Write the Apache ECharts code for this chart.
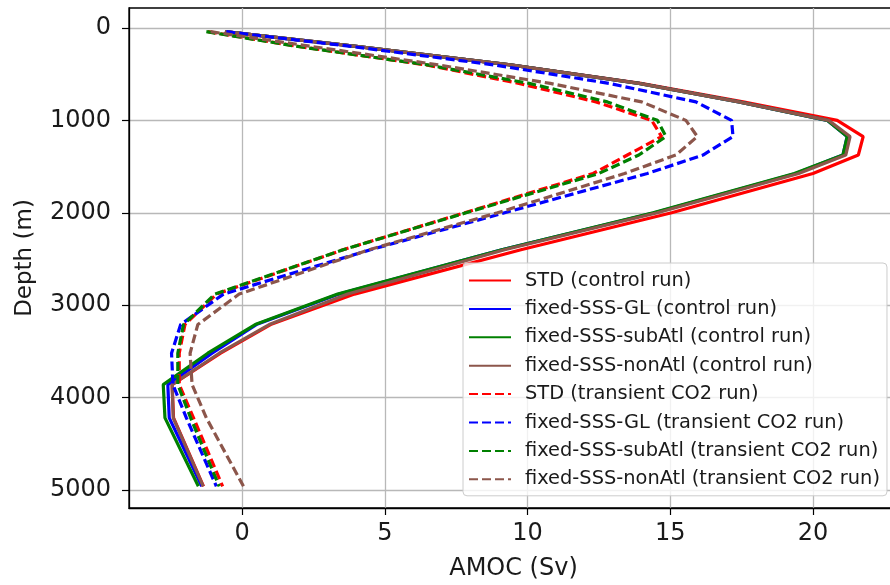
<!DOCTYPE html>
<html>
<head>
<meta charset="utf-8">
<script src="https://cdn.jsdelivr.net/npm/echarts@6/dist/echarts.min.js"></script>
<style>
html,body{margin:0;padding:0;background:#fff;}
#chart{width:890px;height:585px;}
</style>
</head>
<body>
<div id="chart"></div>
<script>
// Depth levels (m)
const depths = [40, 200, 400, 600, 800, 1000, 1175, 1375, 1575, 2000, 2400, 2880, 3210, 3520, 3860, 4220, 4960];

// AMOC (Sv) control runs
const stdCtrl     = [-0.6, 4.0, 9.4, 13.97, 17.55, 20.85, 21.76, 21.59, 20.0, 15.05, 9.77, 3.94, 1.0, -0.75, -2.45, -2.4, -1.35];
const glCtrl      = [-0.6, 4.0, 9.4, 13.9, 17.4, 20.5, 21.2, 21.05, 19.4, 14.45, 9.1, 3.4, 0.5, -1.05, -2.6, -2.55, -1.41];
const subAtlCtrl  = [-0.6, 4.0, 9.4, 13.9, 17.4, 20.5, 21.2, 21.05, 19.35, 14.4, 9.1, 3.35, 0.46, -1.2, -2.76, -2.70, -1.53];
const nonAtlCtrl  = [-0.6, 4.0, 9.4, 13.9, 17.4, 20.55, 21.3, 21.15, 19.5, 14.55, 9.2, 3.7, 0.95, -0.8, -2.45, -2.41, -1.36];

// AMOC (Sv) transient CO2 runs
const stdTrans    = [-1.2, 1.98, 6.45, 9.7, 12.4, 14.35, 14.7, 13.5, 12.3, 7.8, 3.54, -0.89, -2.0, -2.2, -2.2, -1.7, -0.68];
const glTrans     = [-0.55, 3.82, 8.83, 12.87, 15.9, 17.15, 17.2, 16.15, 14.2, 9.2, 4.5, -0.65, -2.15, -2.47, -2.42, -1.95, -0.9];
const subAtlTrans = [-1.25, 1.95, 6.5, 10.06, 12.8, 14.55, 14.85, 13.9, 12.5, 7.85, 3.54, -0.95, -2.05, -2.25, -2.25, -1.8, -0.8];
const nonAtlTrans = [-1.1, 2.44, 6.89, 10.8, 14.0, 15.55, 15.95, 15.2, 13.4, 8.95, 4.45, -0.1, -1.55, -1.82, -1.75, -1.25, 0.05];

// Tick values
const xTicks = [0, 5, 10, 15, 20];
const yTicks = [0, 1000, 2000, 3000, 4000, 5000];

const seriesDefs = [
  ['STD (control run)', stdCtrl, '#ff0000', 'solid'],
  ['fixed-SSS-GL (control run)', glCtrl, '#0000ff', 'solid'],
  ['fixed-SSS-subAtl (control run)', subAtlCtrl, '#008000', 'solid'],
  ['fixed-SSS-nonAtl (control run)', nonAtlCtrl, '#8c564b', 'solid'],
  ['STD (transient CO2 run)', stdTrans, '#ff0000', 'dashed'],
  ['fixed-SSS-GL (transient CO2 run)', glTrans, '#0000ff', 'dashed'],
  ['fixed-SSS-subAtl (transient CO2 run)', subAtlTrans, '#008000', 'dashed'],
  ['fixed-SSS-nonAtl (transient CO2 run)', nonAtlTrans, '#8c564b', 'dashed']
];

const FONT = 'DejaVu Sans';
const chart = echarts.init(document.getElementById('chart'), null, {renderer: 'canvas'});

const option = {
  animation: false,
  backgroundColor: '#ffffff',
  textStyle: {fontFamily: FONT},
  grid: {
    left: 129, top: 8, width: 769, height: 500,
    outerBoundsMode: 'none',
    containLabel: false,
    show: true, borderColor: '#000', borderWidth: 1.3, backgroundColor: 'transparent'
  },
  xAxis: {
    type: 'value',
    min: -3.96, max: 22.98,
    name: 'AMOC (Sv)',
    nameLocation: 'middle',
    nameGap: 49,
    nameTextStyle: {fontFamily: FONT, fontSize: 24, color: '#1a1a1a'},
    axisLine: {show: true, onZero: false, lineStyle: {color: '#000', width: 1.3}},
    axisTick: {show: true, length: 7, lineStyle: {color: '#000', width: 1.2}, customValues: xTicks},
    axisLabel: {fontFamily: FONT, fontSize: 24, color: '#1a1a1a', margin: 14, customValues: xTicks,
      formatter: v => String(v)},
    splitLine: {show: true, lineStyle: {color: '#b8b8b8', width: 1.3}}
  },
  yAxis: {
    type: 'value',
    inverse: true,
    min: -216, max: 5195,
    name: 'Depth (m)',
    nameLocation: 'middle',
    nameGap: 92,
    nameRotate: 90,
    nameTextStyle: {fontFamily: FONT, fontSize: 23, color: '#1a1a1a'},
    axisLine: {show: true, onZero: false, lineStyle: {color: '#000', width: 1.3}},
    axisTick: {show: true, length: 7, lineStyle: {color: '#000', width: 1.2}, customValues: yTicks},
    axisLabel: {fontFamily: FONT, fontSize: 24, color: '#1a1a1a', margin: 18, customValues: yTicks,
      formatter: v => String(v)},
    splitLine: {show: true, lineStyle: {color: '#b8b8b8', width: 1.3}}
  },
  legend: {
    orient: 'vertical',
    left: 463, top: 263,
    padding: [8, 7, 7, 5],
    itemWidth: 42, itemHeight: 14, itemGap: 9.4,
    backgroundColor: 'rgba(255,255,255,0.8)',
    borderColor: '#cccccc', borderWidth: 1, borderRadius: 4,
    itemStyle: {opacity: 0},
    textStyle: {fontFamily: FONT, fontSize: 19.4, color: '#1a1a1a', padding: [0, 0, 0, 9]},
    data: seriesDefs.map(s => s[0])
  },
  series: seriesDefs.map(([name, vals, color, type]) => ({
    name: name,
    type: 'line',
    data: depths.map((d, i) => [vals[i], d]),
    showSymbol: false,
    symbol: 'none',
    lineStyle: {color: color, width: 3.2, type: type === 'dashed' ? [9, 4] : 'solid'},
    itemStyle: {color: color},
    emphasis: {disabled: true},
    z: 3
  }))
};
chart.setOption(option);
</script>
</body>
</html>
